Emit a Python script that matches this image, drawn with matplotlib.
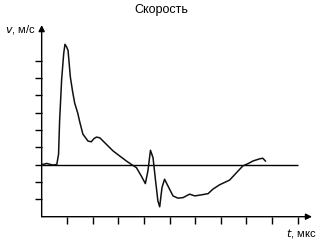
import matplotlib
matplotlib.use("Agg")
import matplotlib.pyplot as plt

plt.rcParams['font.family'] = ['Liberation Sans', 'DejaVu Sans']

# velocity trace (t in tick units, v in tick units)
t_vals = [0.0, 0.2, 0.43, 0.59, 0.66, 0.70, 0.78, 0.86, 0.91, 0.97, 1.03, 1.12, 1.21,
          1.29, 1.41, 1.48, 1.61, 1.81, 1.94, 2.04, 2.14, 2.27, 2.53, 2.79, 3.05,
          3.31, 3.50, 3.70, 3.89, 4.05, 4.15, 4.25, 4.35, 4.45, 4.54, 4.61, 4.70,
          4.80, 4.93, 5.13, 5.32, 5.52, 5.78, 5.98, 6.24, 6.50, 6.69, 6.95, 7.34,
          7.61, 7.86, 8.06, 8.25, 8.52, 8.64, 8.74]
v_vals = [0.0, 0.07, -0.02, 0.01, 0.6, 2.5, 4.9, 6.4, 6.94, 6.8, 6.59, 5.06, 4.2,
          3.55, 2.97, 2.51, 1.76, 1.36, 1.32, 1.5, 1.59, 1.55, 1.17, 0.79, 0.50,
          0.21, 0.02, -0.17, -0.65, -1.09, -0.36, 0.83, 0.40, -0.94, -2.09, -2.43, -1.32,
          -0.84, -1.22, -1.80, -1.93, -1.90, -1.70, -1.80, -1.74, -1.67, -1.41, -1.16, -0.89,
          -0.46, -0.07, 0.06, 0.21, 0.34, 0.37, 0.21]
x_ticks = list(range(1, 11))
y_ticks = list(range(-2, 7))

fig = plt.figure(figsize=(3.23, 2.42), dpi=100)
ax = fig.add_axes([0.129, 0.1045, 0.837, 0.792])
ax.set_xlim(0, 10.56)
ax.set_ylim(-3, 8.05)

for s in ax.spines.values():
    s.set_visible(False)

# axes with arrowheads
ax.annotate('', xy=(1, 0), xytext=(0, 0), xycoords='axes fraction',
            arrowprops=dict(arrowstyle='-|>', color='k', lw=1.0, mutation_scale=9,
                            shrinkA=0, shrinkB=0))
ax.annotate('', xy=(0, 1), xytext=(0, 0), xycoords='axes fraction',
            arrowprops=dict(arrowstyle='-|>', color='k', lw=1.0, mutation_scale=9,
                            shrinkA=0, shrinkB=0))

ax.set_xticks(x_ticks)
ax.set_yticks(y_ticks)
ax.set_xticklabels([])
ax.set_yticklabels([])
ax.tick_params(direction='out', length=5, width=1.0, color='k')

ax.hlines(0, 0, 10, color='k', lw=1.0)
ax.plot(t_vals, v_vals, color='#111111', lw=1.1)

fig.text(0.5, 0.96, 'Скорость', ha='center', va='center', fontsize=9)
fig.text(0.015, 0.88, '$v$, м/с', ha='left', va='center', fontsize=8)
fig.text(0.885, 0.037, '$t$, мкс', ha='left', va='center', fontsize=8)

fig.savefig('out.png', dpi=100)
